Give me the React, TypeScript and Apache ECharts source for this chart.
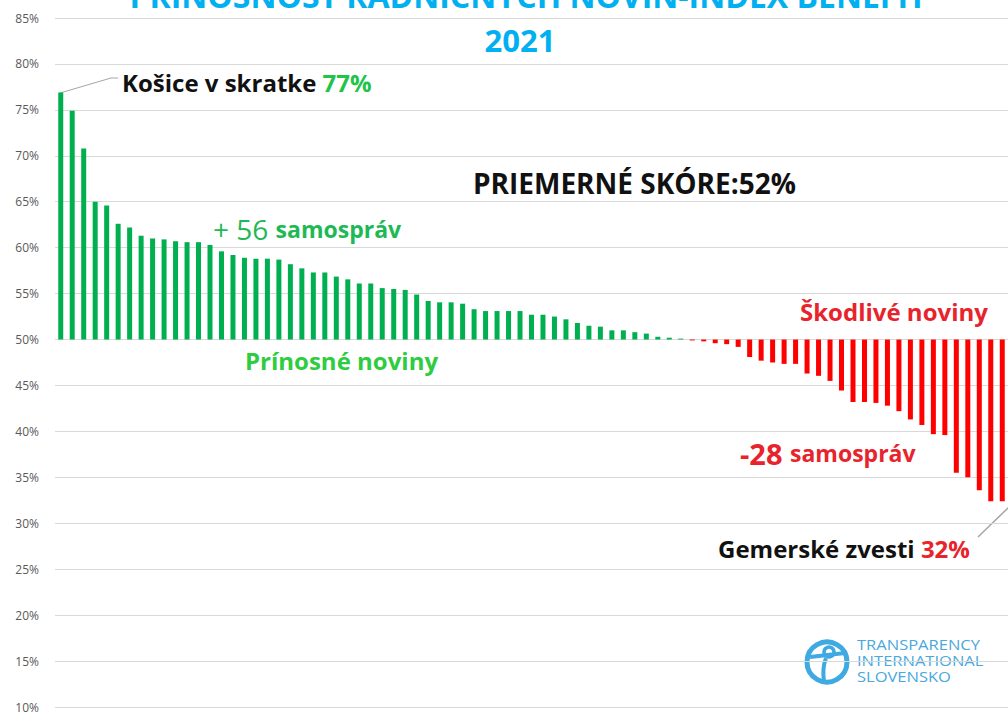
import React, { useEffect, useRef } from "react";
import * as echarts from "echarts";

const BASE = 50;
const scores: number[] = [
  76.9, 74.9, 70.8, 65.0, 64.6, 62.6, 62.2, 61.3, 61.0, 60.9,
  60.7, 60.6, 60.6, 60.3, 59.6, 59.2, 58.9, 58.8, 58.8, 58.7,
  58.2, 57.75, 57.3, 57.3, 56.85, 56.55, 56.1, 56.1, 55.6, 55.5,
  55.4, 54.9, 54.2, 54.05, 54.05, 53.9, 53.3, 53.1, 53.1, 53.1,
  53.1, 52.7, 52.7, 52.5, 52.2, 51.8, 51.5, 51.4, 51.0, 51.0,
  50.8, 50.65, 50.3, 50.2, 50.1,
  49.9, 49.8, 49.6, 49.5, 49.2, 48.1, 47.7, 47.5, 47.35, 47.35,
  46.3, 46.05, 45.5, 44.45, 43.2, 43.2, 43.1, 42.8, 42.2, 41.3,
  40.7, 39.7, 39.6, 35.5, 35.0, 33.6, 32.4, 32.4,
];
const categories: string[] = scores.map((_, i) => `Obec ${i + 1}`);
const yMin = 10;
const yMax = 85;
const yStep = 5;

const titleText = "PRÍNOSNOSŤ RADNIČNÝCH NOVÍN-INDEX BENEFIT";
const yearText = "2021";

const GREEN = "#00B050";
const RED = "#FF0000";
const BLUE = "#00B0F0";
const FONT = "'Open Sans', Lato, sans-serif";

export default function App() {
  const ref = useRef<HTMLDivElement>(null);
  useEffect(() => {
    document.body.style.margin = "0";
    if (!ref.current) return;
    const chart = echarts.init(ref.current, null, { renderer: "svg" });
    const option: any = {
      animation: false,
      backgroundColor: "#ffffff",
      grid: { left: 55, right: 0, top: 18, bottom: 5, containLabel: false },
      xAxis: {
        type: "category",
        data: categories,
        show: false,
      },
      yAxis: {
        type: "value",
        min: yMin - BASE,
        max: yMax - BASE,
        interval: yStep,
        axisLine: { show: false },
        axisTick: { show: false },
        axisLabel: {
          margin: 16,
          color: "#595959",
          fontFamily: FONT,
          fontSize: 12,
          formatter: (v: number) => `${Math.round(v + BASE)}%`,
        },
        splitLine: { lineStyle: { color: "#D9D9D9", width: 1 } },
      },
      series: [
        {
          type: "bar",
          barWidth: 5,
          data: scores.map((s) => ({
            value: +(s - BASE).toFixed(2),
            itemStyle: { color: s >= BASE ? GREEN : RED },
          })),
        },
      ],
      graphic: [
        {
          type: "text",
          x: 528,
          y: -5,
          style: {
            text: titleText,
            fill: BLUE,
            font: `bold 32px ${FONT}`,
            align: "center",
            verticalAlign: "middle",
          },
        },
        {
          type: "text",
          x: 520,
          y: 40,
          style: {
            text: yearText,
            fill: BLUE,
            font: `bold 31px ${FONT}`,
            align: "center",
            verticalAlign: "middle",
          },
        },
        {
          type: "polyline",
          shape: { points: [[60, 93], [111, 78], [118, 78]] },
          style: { stroke: "#A6A6A6", lineWidth: 1, fill: null },
        },
        {
          type: "text",
          x: 122,
          y: 82,
          style: {
            text: "{b|Košice v skratke }{g|77%}",
            verticalAlign: "middle",
            rich: {
              b: { fill: "#111111", font: `bold 24px ${FONT}` },
              g: { fill: "#22C34B", font: `bold 24px ${FONT}` },
            },
          },
        },
        {
          type: "text",
          x: 473,
          y: 183,
          style: {
            text: "PRIEMERNÉ SKÓRE:52%",
            fill: "#111111",
            font: `bold 28px ${FONT}`,
            verticalAlign: "middle",
          },
        },
        {
          type: "text",
          x: 213,
          y: 229,
          style: {
            text: "{n|+ 56 }{s|samospráv}",
            verticalAlign: "middle",
            rich: {
              n: { fill: "#1DB954", font: `28px ${FONT}` },
              s: { fill: "#1DB954", font: `bold 23px ${FONT}` },
            },
          },
        },
        {
          type: "text",
          x: 245,
          y: 360,
          style: {
            text: "Prínosné noviny",
            fill: "#2ECC40",
            font: `bold 24px ${FONT}`,
            verticalAlign: "middle",
          },
        },
        {
          type: "text",
          x: 800,
          y: 311,
          style: {
            text: "Škodlivé noviny",
            fill: "#E8232B",
            font: `bold 24px ${FONT}`,
            verticalAlign: "middle",
          },
        },
        {
          type: "text",
          x: 740,
          y: 453,
          style: {
            text: "{n|-28 }{s|samospráv}",
            verticalAlign: "middle",
            rich: {
              n: { fill: "#E8232B", font: `bold 29px ${FONT}` },
              s: { fill: "#E8232B", font: `bold 23px ${FONT}` },
            },
          },
        },
        {
          type: "line",
          shape: { x1: 978, y1: 537, x2: 1010, y2: 506 },
          style: { stroke: "#A6A6A6", lineWidth: 1.5 },
        },
        {
          type: "text",
          x: 718,
          y: 548,
          style: {
            text: "{b|Gemerské zvesti }{r|32%}",
            verticalAlign: "middle",
            rich: {
              b: { fill: "#111111", font: `bold 24px ${FONT}` },
              r: { fill: "#E8232B", font: `bold 24px ${FONT}` },
            },
          },
        },
        {
          type: "rect",
          shape: { x: 795, y: 628, width: 208, height: 70 },
          style: { fill: "#ffffff" },
        },
        {
          type: "circle",
          shape: { cx: 827, cy: 662, r: 20 },
          style: { fill: "none", stroke: "#3FA9E2", lineWidth: 5 },
        },
        {
          type: "circle",
          shape: { cx: 829, cy: 652, r: 5 },
          style: { fill: "none", stroke: "#3FA9E2", lineWidth: 3.5 },
        },
        {
          type: "line",
          shape: { x1: 810, y1: 657, x2: 845, y2: 653 },
          style: { stroke: "#3FA9E2", lineWidth: 4 },
        },
        {
          type: "bezierCurve",
          shape: { x1: 826, y1: 658, cpx1: 822, cpy1: 668, x2: 824, y2: 682 },
          style: { stroke: "#3FA9E2", lineWidth: 4, fill: "none" },
        },
        {
          type: "text",
          x: 857,
          y: 637,
          scaleX: 1.18,
          style: {
            text: "TRANSPARENCY\nINTERNATIONAL\nSLOVENSKO",
            fill: "#4AA8DE",
            font: `14px ${FONT}`,
            lineHeight: 16,
            verticalAlign: "top",
          },
        },
      ],
    };
    chart.setOption(option);
    return () => chart.dispose();
  }, []);
  return <div ref={ref} style={{ width: 1008, height: 713 }} />;
}
